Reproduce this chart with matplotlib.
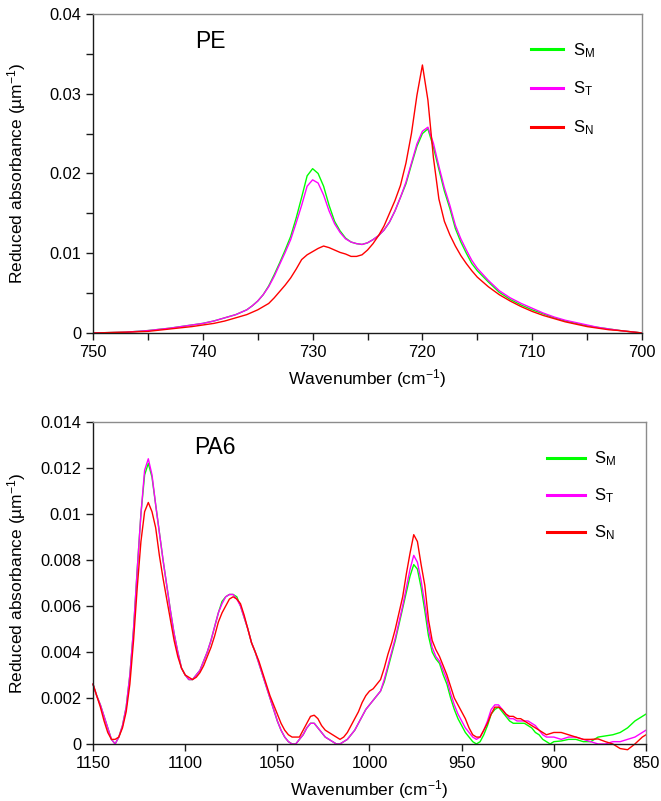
import matplotlib
matplotlib.use("Agg")
import matplotlib.pyplot as plt
from matplotlib.lines import Line2D
from matplotlib.ticker import MultipleLocator, FuncFormatter

plt.rcParams['font.family'] = ['Liberation Sans', 'DejaVu Sans']
plt.rcParams['mathtext.fontset'] = 'custom'
plt.rcParams['mathtext.rm'] = 'Liberation Sans'
plt.rcParams['mathtext.it'] = 'Liberation Sans:italic'

# PE spectra, 750 -> 700 cm-1
pe_wn = [750, 747, 745, 743, 741, 740, 739, 738, 737, 736,
         735.5, 735, 734.5, 734, 733.5, 733, 732.5, 732, 731.5, 731,
         730.5, 730, 729.5, 729, 728.5, 728, 727.5, 727, 726.5, 726,
         725.5, 725, 724.5, 724, 723.5, 723, 722.5, 722, 721.5, 721,
         720.5, 720, 719.5, 719, 718.5, 718, 717.5, 717, 716.5, 716,
         715.5, 715, 714, 713, 712, 711, 710, 709, 708, 707,
         706, 705, 704, 703, 702, 701, 700]
pe_sm = [0, 0.0001, 0.0003, 0.0006, 0.0010, 0.0012, 0.0015, 0.0019, 0.0023, 0.0029,
         0.0034, 0.0040, 0.0048, 0.0059, 0.0073, 0.0088, 0.0104, 0.0121, 0.0144, 0.0170,
         0.0197, 0.0206, 0.0200, 0.0184, 0.0160, 0.0140, 0.0128, 0.0119, 0.0114, 0.0112,
         0.0111, 0.0113, 0.0117, 0.0122, 0.0129, 0.0139, 0.0153, 0.0170, 0.0187, 0.0211,
         0.0234, 0.0250, 0.0256, 0.0233, 0.0205, 0.0178, 0.0156, 0.0131, 0.0114, 0.0100,
         0.0087, 0.0078, 0.0064, 0.0051, 0.0042, 0.0035, 0.0029, 0.0024, 0.0019, 0.0015,
         0.0012, 0.0009, 0.0007, 0.0005, 0.0003, 0.00015, 0]
pe_st = [0, 0.0001, 0.0003, 0.0006, 0.0010, 0.0012, 0.0015, 0.0019, 0.0023, 0.0029,
         0.0034, 0.0040, 0.0048, 0.0058, 0.0071, 0.0086, 0.0101, 0.0117, 0.0138, 0.0160,
         0.0184, 0.0192, 0.0188, 0.0173, 0.0153, 0.0137, 0.0126, 0.0118, 0.0114, 0.0112,
         0.0111, 0.0113, 0.0117, 0.0122, 0.0129, 0.0139, 0.0153, 0.0170, 0.0189, 0.0213,
         0.0237, 0.0253, 0.0258, 0.0238, 0.0209, 0.0182, 0.0160, 0.0135, 0.0118, 0.0104,
         0.0091, 0.0081, 0.0066, 0.0053, 0.0044, 0.0037, 0.0031, 0.0025, 0.0020, 0.0016,
         0.0013, 0.0010, 0.0007, 0.0005, 0.0003, 0.00015, 0]
pe_sn = [0, 0.0001, 0.0002, 0.0005, 0.0008, 0.0010, 0.0012, 0.0015, 0.0019, 0.0023,
         0.0026, 0.0029, 0.0033, 0.0037, 0.0044, 0.0052, 0.0060, 0.0069, 0.0080, 0.0092,
         0.0098, 0.0102, 0.0106, 0.0109, 0.0107, 0.0104, 0.0101, 0.0099, 0.0096, 0.0096,
         0.0098, 0.0104, 0.0112, 0.0122, 0.0134, 0.0150, 0.0166, 0.0185, 0.0213, 0.0250,
         0.0298, 0.0336, 0.0292, 0.0220, 0.0168, 0.0140, 0.0123, 0.0109, 0.0097, 0.0087,
         0.0078, 0.0070, 0.0058, 0.0048, 0.0040, 0.0033, 0.0027, 0.0022, 0.0018, 0.0014,
         0.0011, 0.0008, 0.0006, 0.0004, 0.0003, 0.00015, 0]

# PA6 spectra, 1150 -> 850 cm-1
pa_wn = [1150, 1148, 1146, 1144, 1142, 1140, 1138, 1136, 1134, 1132,
         1130, 1128, 1126, 1124, 1122, 1120, 1118, 1116, 1114, 1112,
         1110, 1108, 1106, 1104, 1102, 1100, 1098, 1096, 1094, 1092,
         1090, 1088, 1086, 1084, 1082, 1080, 1078, 1076, 1074, 1072,
         1070, 1068, 1066, 1064, 1062, 1060, 1058, 1056, 1054, 1052,
         1050, 1048, 1046, 1044, 1042, 1040, 1038, 1036, 1034, 1032,
         1030, 1028, 1026, 1024, 1022, 1020, 1018, 1016, 1014, 1012,
         1010, 1008, 1006, 1004, 1002, 1000, 998, 996, 994, 992,
         990, 988, 986, 984, 982, 980, 978, 976, 974, 972,
         970, 968, 966, 964, 962, 960, 958, 956, 954, 952,
         950, 948, 946, 944, 942, 940, 938, 936, 934, 932,
         930, 928, 926, 924, 922, 920, 918, 916, 914, 912,
         910, 908, 906, 904, 902, 900, 896, 892, 888, 884,
         880, 876, 872, 868, 864, 860, 856, 852, 850]
pa_sm = [0.0026, 0.0021, 0.0017, 0.0012, 0.0007, 0.0002, 0.0000, 0.0003, 0.0008, 0.0016,
         0.0030, 0.0050, 0.0076, 0.0100, 0.0117, 0.0122, 0.0116, 0.0104, 0.0092, 0.0080,
         0.0069, 0.0058, 0.0048, 0.0040, 0.0033, 0.0030, 0.0028, 0.0028, 0.0030, 0.0032,
         0.0036, 0.0040, 0.0045, 0.0051, 0.0057, 0.0062, 0.0064, 0.0065, 0.0065, 0.0064,
         0.0060, 0.0055, 0.0050, 0.0044, 0.0040, 0.0035, 0.0030, 0.0025, 0.0020, 0.0015,
         0.0010, 0.0006, 0.0003, 0.0001, 0.0000, 0.0000, 0.0002, 0.0004, 0.0007, 0.0009,
         0.0009, 0.0007, 0.0005, 0.0003, 0.0002, 0.0001, 0.0000, 0.0000, 0.0001, 0.0002,
         0.0004, 0.0006, 0.0009, 0.0012, 0.0015, 0.0017, 0.0019, 0.0021, 0.0023, 0.0027,
         0.0033, 0.0039, 0.0045, 0.0052, 0.0059, 0.0066, 0.0073, 0.0078, 0.0076, 0.0068,
         0.0058, 0.0047, 0.0040, 0.0037, 0.0035, 0.0030, 0.0026, 0.0020, 0.0015, 0.0011,
         0.0008, 0.0005, 0.0003, 0.0001, 0.0000, 0.0001, 0.0004, 0.0008, 0.0013, 0.0015,
         0.0016, 0.0014, 0.0012, 0.0010, 0.0009, 0.0009, 0.0009, 0.0009, 0.0008, 0.0007,
         0.0005, 0.0004, 0.0002, 0.0001, 0.0000, 0.0001, 0.00013, 0.0002, 0.0002, 0.0001,
         0.0001, 0.0003, 0.00035, 0.0004, 0.0005, 0.0007, 0.0010, 0.0012, 0.0013]
pa_st = [0.0026, 0.0021, 0.0017, 0.0012, 0.0007, 0.0002, 0.0000, 0.0003, 0.0008, 0.0016,
         0.0030, 0.0050, 0.0076, 0.0100, 0.0119, 0.0124, 0.0117, 0.0104, 0.0092, 0.0080,
         0.0069, 0.0058, 0.0048, 0.0040, 0.0033, 0.0030, 0.0028, 0.0028, 0.0030, 0.0032,
         0.0036, 0.0040, 0.0045, 0.0051, 0.0057, 0.0061, 0.0064, 0.0065, 0.0065, 0.0063,
         0.0060, 0.0055, 0.0050, 0.0044, 0.0040, 0.0035, 0.0030, 0.0025, 0.0020, 0.0015,
         0.0010, 0.0006, 0.0003, 0.0001, 0.0000, 0.0000, 0.0002, 0.0004, 0.0007, 0.0009,
         0.0009, 0.0007, 0.0005, 0.0003, 0.0002, 0.0001, 0.0000, 0.0000, 0.0001, 0.0002,
         0.0004, 0.0006, 0.0009, 0.0012, 0.0015, 0.0017, 0.0019, 0.0021, 0.0023, 0.0028,
         0.0034, 0.0040, 0.0046, 0.0053, 0.0060, 0.0068, 0.0076, 0.0082, 0.0079, 0.0071,
         0.0061, 0.0050, 0.0042, 0.0038, 0.0036, 0.0032, 0.0028, 0.0022, 0.0017, 0.0013,
         0.0010, 0.0007, 0.0005, 0.0003, 0.0002, 0.0003, 0.0006, 0.0010, 0.0015, 0.0017,
         0.0017, 0.0015, 0.0013, 0.0011, 0.0011, 0.0010, 0.0010, 0.0010, 0.0010, 0.0009,
         0.0008, 0.0006, 0.0004, 0.0003, 0.0003, 0.0003, 0.0002, 0.0003, 0.0003, 0.0002,
         0.0001, 0.0000, 0.0000, 0.0001, 0.0001, 0.0002, 0.0003, 0.0005, 0.0006]
pa_sn = [0.0026, 0.0021, 0.0016, 0.0010, 0.0005, 0.0002, 0.0002, 0.0003, 0.0007, 0.0014,
         0.0026, 0.0045, 0.0068, 0.0088, 0.0101, 0.0105, 0.0101, 0.0094, 0.0082, 0.0072,
         0.0063, 0.0054, 0.0045, 0.0038, 0.0033, 0.0030, 0.0029, 0.0028, 0.0029, 0.0031,
         0.0034, 0.0038, 0.0042, 0.0047, 0.0053, 0.0057, 0.0060, 0.0063, 0.0064, 0.0063,
         0.0061, 0.0056, 0.0050, 0.0044, 0.0040, 0.0036, 0.0031, 0.0026, 0.0021, 0.0017,
         0.0013, 0.0009, 0.0006, 0.0004, 0.0003, 0.0003, 0.0003, 0.0006, 0.0009, 0.0012,
         0.00125, 0.0011, 0.0008, 0.0006, 0.0005, 0.0004, 0.0003, 0.0002, 0.0003, 0.0005,
         0.0008, 0.0011, 0.0014, 0.0018, 0.0021, 0.0023, 0.0024, 0.0026, 0.0028, 0.0033,
         0.0039, 0.0044, 0.0050, 0.0057, 0.0064, 0.0074, 0.0083, 0.0091, 0.0088, 0.0078,
         0.0069, 0.0054, 0.0045, 0.0041, 0.0038, 0.0034, 0.0030, 0.0025, 0.0020, 0.0017,
         0.0014, 0.0011, 0.0007, 0.0004, 0.0003, 0.0003, 0.0006, 0.0009, 0.0013, 0.0016,
         0.0016, 0.0015, 0.0013, 0.0012, 0.0012, 0.0011, 0.0011, 0.0010, 0.0009, 0.0008,
         0.0007, 0.0006, 0.0005, 0.0004, 0.00045, 0.0005, 0.0005, 0.0004, 0.0003, 0.0002,
         0.0002, 0.00022, 0.0001, 0.0000, -0.0002, -0.00025, 0.0000, 0.0003, 0.0004]

series_labels = [r'S$_\mathregular{M}$', r'S$_\mathregular{T}$', r'S$_\mathregular{N}$']
series_colors = ['#00ff00', '#ff00ff', '#ff0000']

YLABEL = 'Reduced absorbance (µm$^{\\mathregular{-1}}$)'
XLABEL = 'Wavenumber (cm$^{\\mathregular{-1}}$)'


def fmt(v, pos):
    if abs(v) < 1e-12:
        return '0'
    return f'{v:g}'


def style_axes(ax):
    for side in ['left', 'bottom']:
        ax.spines[side].set_color('#1a1a1a')
    for side in ['top', 'right']:
        ax.spines[side].set_color('#8c8c8c')
    for sp in ax.spines.values():
        sp.set_linewidth(1.0)
    ax.tick_params(which='both', direction='out', length=5, width=1,
                   colors='#1a1a1a', labelsize=11.8, pad=3.5,
                   top=False, right=False)
    ax.tick_params(labelcolor='black')
    ax.yaxis.set_major_formatter(FuncFormatter(fmt))


def add_legend(ax, anchor, hlen, hpad, spacing):
    handles = [Line2D([], [], color=c, lw=2.2) for c in series_colors]
    ax.legend(handles, series_labels, loc='upper left', bbox_to_anchor=anchor,
              frameon=False, fontsize=12, borderpad=0, borderaxespad=0,
              handlelength=hlen, handletextpad=hpad, labelspacing=spacing)


fig = plt.figure(figsize=(6.61, 8.01), dpi=100)
ax1 = fig.add_axes([0.1407, 0.5843, 0.8306, 0.3983])
ax2 = fig.add_axes([0.1407, 0.0712, 0.8366, 0.4020])

# top panel: PE
for y, c in zip([pe_sm, pe_st, pe_sn], series_colors):
    ax1.plot(pe_wn, y, color=c, lw=1.0)
ax1.set_xlim(750, 700)
ax1.set_ylim(0, 0.04)
ax1.xaxis.set_major_locator(MultipleLocator(10))
ax1.xaxis.set_minor_locator(MultipleLocator(5))
ax1.yaxis.set_major_locator(MultipleLocator(0.01))
ax1.yaxis.set_minor_locator(MultipleLocator(0.005))
style_axes(ax1)
ax1.set_xlabel(XLABEL, fontsize=12.5, labelpad=5)
ax1.set_ylabel(YLABEL, fontsize=12.5)
ax1.yaxis.set_label_coords(-0.118, 0.5)
ax1.text(0.213, 0.915, 'PE', transform=ax1.transAxes, fontsize=16.5,
         ha='center', va='center')
add_legend(ax1, (0.798, 0.915), 1.9, 0.6, 1.2)

# bottom panel: PA6
for y, c in zip([pa_sm, pa_st, pa_sn], series_colors):
    ax2.plot(pa_wn, y, color=c, lw=1.0, clip_on=False)
ax2.set_xlim(1150, 850)
ax2.set_ylim(0, 0.014)
ax2.xaxis.set_major_locator(MultipleLocator(50))
ax2.yaxis.set_major_locator(MultipleLocator(0.002))
style_axes(ax2)
ax2.set_xlabel(XLABEL, fontsize=12.5, labelpad=5)
ax2.set_ylabel(YLABEL, fontsize=12.5)
ax2.yaxis.set_label_coords(-0.117, 0.5)
ax2.text(0.2206, 0.921, 'PA6', transform=ax2.transAxes, fontsize=16.5,
         ha='center', va='center')
add_legend(ax2, (0.821, 0.915), 2.3, 0.5, 1.1)

fig.savefig('out.png', dpi=100)
